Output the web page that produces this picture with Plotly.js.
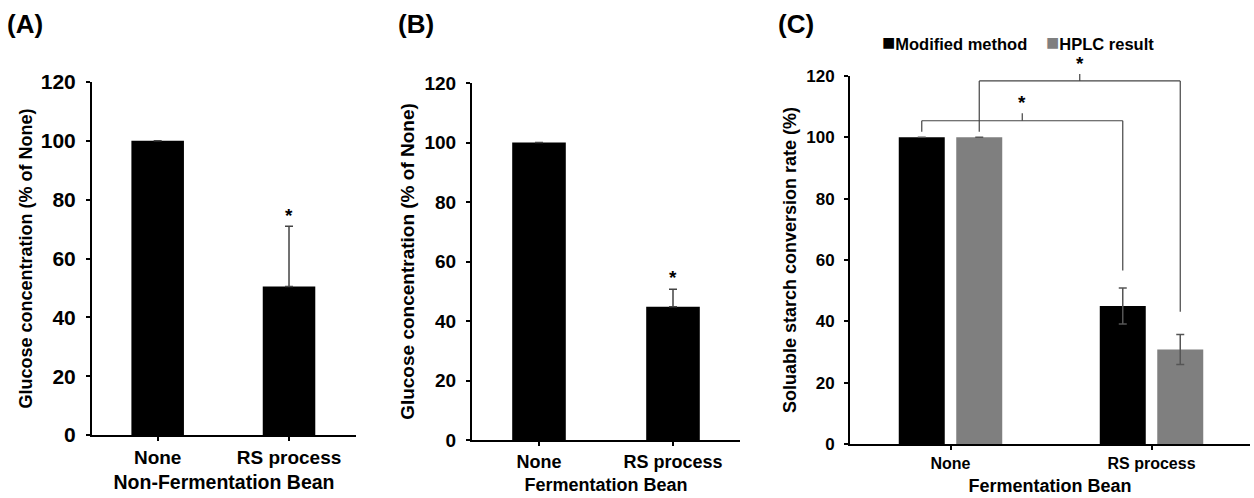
<!DOCTYPE html>
<html><head><meta charset="utf-8">
<script src="https://cdn.plot.ly/plotly-3.0.1.min.js"></script>
<style>html,body{margin:0;padding:0;background:#fff}#chart{width:1254px;height:498px}</style>
</head><body><div id="chart"></div><script>
const categories = ["None", "RS process"];
const nonFermValues = [100, 50.5];
const nonFermErr = [null, 20.5];
const fermValues = [100, 44.8];
const fermErr = [null, 5.9];
const modifiedValues = [100, 45.0];
const modifiedErr = [0, 5.9];
const hplcValues = [100, 30.8];
const hplcErr = [0, 4.9];
const yTicks = [0, 20, 40, 60, 80, 100, 120];
const seriesNames = ["Modified method", "HPLC result"];
const panelLabels = ["(A)", "(B)", "(C)"];
const xTitles = ["Non-Fermentation Bean", "Fermentation Bean", "Fermentation Bean"];
const yTitles = ["Glucose concentration (% of None)", "Glucose concentration (% of None)", "Soluable starch conversion rate (%)"];

const FONT = "Liberation Sans, Arial, sans-serif";
const BLACK = "#000000", GRAY = "#7f7f7f", ERR = "#555555";
const BARGAP_C = 0.428, GROUPGAP_C = 0.2;

function font(size, color) { return {family: FONT, size: size, color: color || "#000", weight: "bold"}; }

const traces = [
  {type: "bar", x: categories, y: nonFermValues, xaxis: "x", yaxis: "y", width: 0.4,
   marker: {color: BLACK}, showlegend: false,
   error_y: {type: "data", array: nonFermErr, arrayminus: [null, 0], symmetric: false, color: "#444", thickness: 1.5, width: 4}},
  {type: "bar", x: categories, y: fermValues, xaxis: "x2", yaxis: "y2", width: 0.4,
   marker: {color: BLACK}, showlegend: false,
   error_y: {type: "data", array: fermErr, arrayminus: [null, 0], symmetric: false, color: "#444", thickness: 1.5, width: 4}},
  {type: "bar", name: seriesNames[0], x: categories, y: modifiedValues, xaxis: "x3", yaxis: "y3",
   marker: {color: BLACK}, showlegend: false,
   error_y: {type: "data", array: modifiedErr, color: ERR, thickness: 1.5, width: 4}},
  {type: "bar", name: seriesNames[1], x: categories, y: hplcValues, xaxis: "x3", yaxis: "y3",
   marker: {color: GRAY}, showlegend: false,
   error_y: {type: "data", array: hplcErr, color: ERR, thickness: 1.5, width: 4}}
];

function yax(domain, anchor, tickSize, titleSize, title, standoff, labelStandoff) {
  return {domain: domain, anchor: anchor, range: [0, 120], tickvals: yTicks, showgrid: false, zeroline: false,
    showline: true, linecolor: "#000", linewidth: 2, ticks: "outside", ticklen: 4, tickwidth: 2, tickcolor: "#000",
    tickfont: font(tickSize), ticklabelstandoff: labelStandoff,
    title: {text: title, font: font(titleSize), standoff: standoff}, fixedrange: true};
}
function xax(domain, range, anchor, tickSize, titleSize, title, standoff) {
  return {domain: domain, range: range, anchor: anchor, type: "category", showgrid: false, zeroline: false,
    showline: true, linecolor: "#000", linewidth: 2, ticks: "outside", ticklen: 4, tickwidth: 2, tickcolor: "#000",
    tickfont: font(tickSize), title: {text: title, font: font(titleSize), standoff: standoff}, fixedrange: true};
}

// bracket geometry derived from the grouped-bar layout of panel C
const slot = (1 - BARGAP_C) / 2;
const off = slot / 2;
const bracketLow = 105.4, bracketHigh = 118.4, legGap = 1.8;
const topOf = (v, e, i) => v[i] + (e[i] || 0);

const shapes = [];
function seg(x0, y0, x1, y1) {
  shapes.push({type: "line", xref: "x3", yref: "y3", x0: x0, y0: y0, x1: x1, y1: y1,
    line: {color: "#444", width: 1.2}});
}
const l0 = 0 - off, l1 = 1 - off;
seg(l0, bracketLow, l1, bracketLow);
seg(l0, bracketLow, l0, topOf(modifiedValues, modifiedErr, 0) + legGap);
seg(l1, bracketLow, l1, topOf(modifiedValues, modifiedErr, 1) + 5.7);
const h0 = 0 + off, h1 = 1 + off;
seg(h0, bracketHigh, h1, bracketHigh);
seg(h0, bracketHigh, h0, topOf(hplcValues, hplcErr, 0) + legGap);
seg(h1, bracketHigh, h1, topOf(hplcValues, hplcErr, 1) + 7.4);

function legendText(color, name) {
  return "<span style='color:" + color + ";font-size:22px'>■</span>" + name;
}

const annotations = [
  {text: panelLabels[0], xref: "paper", yref: "paper", x: 0.004, y: 1 - 24/498, xanchor: "left", yanchor: "middle", showarrow: false, font: font(26)},
  {text: panelLabels[1], xref: "paper", yref: "paper", x: 396/1254, y: 1 - 24/498, xanchor: "left", yanchor: "middle", showarrow: false, font: font(26)},
  {text: panelLabels[2], xref: "paper", yref: "paper", x: 776/1254, y: 1 - 24/498, xanchor: "left", yanchor: "middle", showarrow: false, font: font(26)},
  {text: "*", xref: "x", yref: "y", x: categories[1], y: topOf(nonFermValues, nonFermErr, 1), yanchor: "bottom", yshift: -2, showarrow: false, font: font(19)},
  {text: "*", xref: "x2", yref: "y2", x: categories[1], y: topOf(fermValues, fermErr, 1), yanchor: "bottom", yshift: -1, showarrow: false, font: font(19)},
  {text: "*", xref: "x3", yref: "y3", x: (l0 + l1) / 2, y: bracketLow, axref: "x3", ayref: "y3", ax: (l0 + l1) / 2, ay: bracketLow + 6.0,
   showarrow: true, arrowhead: 0, arrowwidth: 1.2, arrowcolor: "#444", standoff: 0, font: font(19), borderpad: 0},
  {text: "*", xref: "x3", yref: "y3", x: (h0 + h1) / 2, y: bracketHigh, axref: "x3", ayref: "y3", ax: (h0 + h1) / 2, ay: bracketHigh + 5.8,
   showarrow: true, arrowhead: 0, arrowwidth: 1.2, arrowcolor: "#444", standoff: 0, font: font(19), borderpad: 0},
  {text: legendText(BLACK, seriesNames[0]), xref: "paper", yref: "paper", x: 880/1254, y: 1 - 43/498,
   xanchor: "left", yanchor: "middle", showarrow: false, font: font(16.5)},
  {text: legendText(GRAY, seriesNames[1]), xref: "paper", yref: "paper", x: 1044/1254, y: 1 - 43/498,
   xanchor: "left", yanchor: "middle", showarrow: false, font: font(16.5)}
];

const layout = {
  width: 1254, height: 498, margin: {l: 0, r: 0, t: 0, b: 0},
  paper_bgcolor: "#fff", plot_bgcolor: "#fff", showlegend: false,
  barmode: "group", bargap: BARGAP_C, bargroupgap: GROUPGAP_C,
  font: {family: FONT, color: "#000"},
  xaxis: xax([92/1254, 356/1254], [-0.5, 1.51], "y", 19, 19.5, xTitles[0], 9),
  yaxis: yax([63/498, 416/498], "x", 21, 18, yTitles[0], 3, 6),
  xaxis2: xax([472/1254, 740/1254], [-0.5, 1.5], "y2", 18, 18, xTitles[1], 8),
  yaxis2: yax([58/498, 415/498], "x2", 19, 19, yTitles[1], 5, 6),
  xaxis3: xax([850/1254, 1250/1254], [-0.5, 1.49], "y3", 16, 18, xTitles[2], 8),
  yaxis3: yax([54/498, 422/498], "x3", 17, 18, yTitles[2], 5, 6),
  shapes: shapes, annotations: annotations
};

Plotly.newPlot("chart", traces, layout, {staticPlot: true, displayModeBar: false});
</script></body></html>
